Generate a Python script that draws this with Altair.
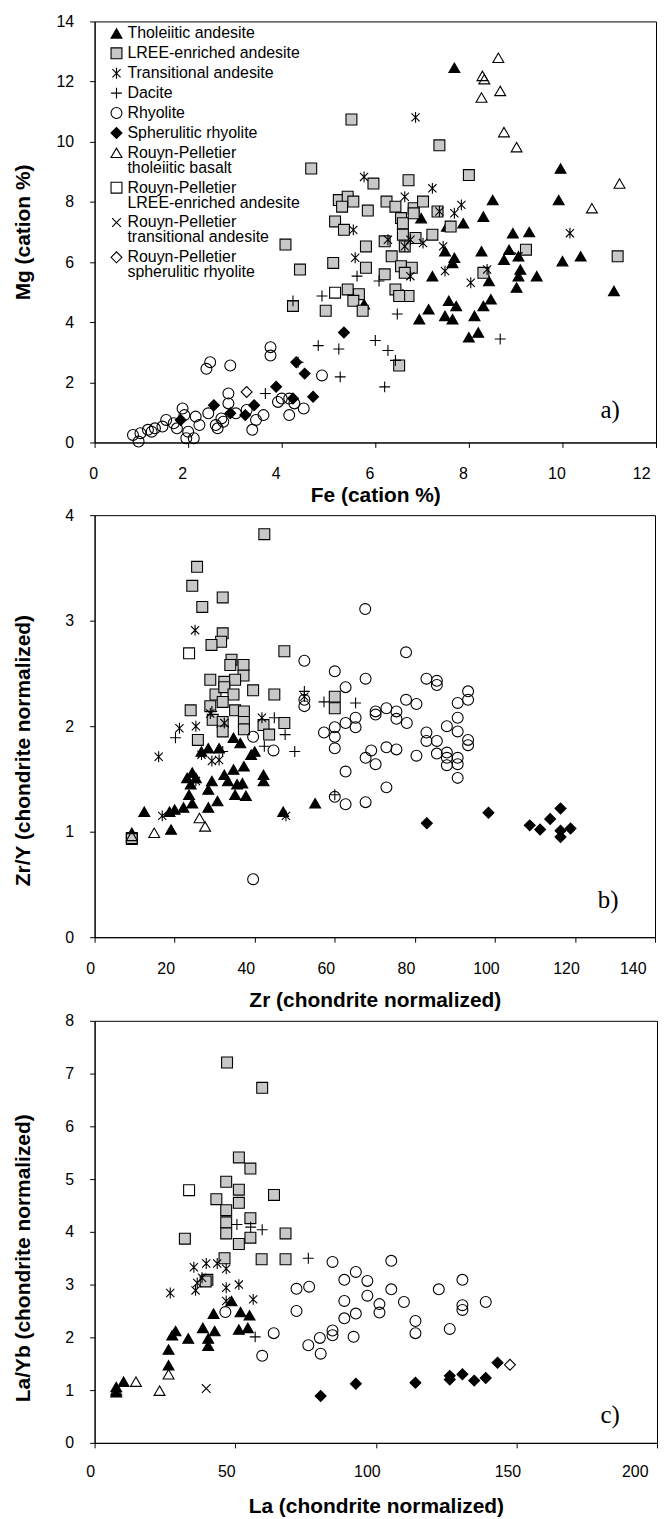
import altair as alt
import pandas as pd

TYPES = [
    "Tholeiitic andesite",
    "LREE-enriched andesite",
    "Transitional andesite",
    "Dacite",
    "Rhyolite",
    "Spherulitic rhyolite",
    "Rouyn-Pelletier tholeiitic basalt",
    "Rouyn-Pelletier LREE-enriched andesite",
    "Rouyn-Pelletier transitional andesite",
    "Rouyn-Pelletier spherulitic rhyolite",
]
ASTER = "M-0.75,-0.75L0.75,0.75M-0.75,0.75L0.75,-0.75M0,-1L0,1"
PLUS = "M-1,0L1,0M0,-1L0,1"
XMARK = "M-0.8,-0.8L0.8,0.8M-0.8,0.8L0.8,-0.8"
SHAPES = ["triangle-up", "square", ASTER, PLUS, "circle", "diamond",
          "triangle-up", "square", XMARK, "diamond"]
FILLS = ["black", "#c8c8c8", "transparent", "transparent", "transparent", "black",
         "transparent", "transparent", "transparent", "transparent"]
STROKES = ["black"] * 10

# ---------------- Panel a: Mg vs Fe (cation %) ----------------
A_THOL = [(7.69, 12.46), (9.96, 9.11), (8.51, 8.06), (9.92, 8.06), (8.31, 7.51), (6.98, 7.46),
          (7.53, 7.18), (7.88, 7.29), (8.94, 6.96), (9.29, 7.0), (8.27, 6.36), (8.86, 6.41),
          (8.75, 6.08), (9.06, 6.19), (10.0, 6.03), (10.39, 6.19), (7.49, 6.36), (7.69, 6.14),
          (7.65, 5.97), (9.1, 5.75), (9.06, 5.53), (8.43, 5.37), (9.45, 5.53), (9.02, 5.15),
          (7.22, 5.53), (11.1, 5.04), (6.59, 4.93), (5.76, 4.6), (7.14, 4.43), (7.57, 4.71),
          (7.73, 4.54), (7.49, 4.21), (7.65, 4.10), (6.94, 4.10), (8.31, 4.54), (8.47, 4.76),
          (8.12, 4.21), (8.0, 3.5), (8.2, 3.66)]
A_LREE = [(5.49, 10.74), (7.37, 9.88), (4.63, 9.11), (8.0, 8.89), (6.71, 8.72), (5.96, 8.61),
          (5.22, 8.06), (5.41, 8.17), (5.53, 8.01), (5.29, 7.84), (5.84, 7.71), (6.24, 8.01),
          (6.43, 7.84), (6.82, 7.79), (7.02, 8.01), (7.33, 7.68), (6.55, 7.46), (6.59, 7.29),
          (6.82, 7.62), (5.14, 7.35), (5.33, 7.07), (7.61, 7.18), (4.08, 6.58), (5.80, 6.52),
          (6.2, 6.69), (6.59, 6.91), (6.86, 6.80), (7.22, 6.91), (6.63, 6.52), (9.22, 6.41),
          (6.35, 6.19), (11.18, 6.19), (5.10, 5.97), (4.39, 5.75), (5.80, 5.81), (6.55, 5.86),
          (6.78, 5.81), (6.2, 5.59), (6.63, 5.64), (8.31, 5.64), (5.41, 5.09), (5.65, 4.93),
          (5.53, 4.71), (6.43, 5.09), (6.71, 4.87), (6.51, 4.87), (4.24, 4.54), (4.94, 4.38),
          (5.73, 4.38), (6.51, 2.56)]
A_TRAN = [(6.86, 10.81), (5.76, 8.83), (7.22, 8.45), (6.63, 8.17), (7.84, 7.90), (7.37, 7.68),
          (7.69, 7.62), (5.53, 7.07), (10.16, 6.96), (6.27, 6.74), (6.75, 6.74), (7.02, 6.63),
          (6.63, 6.52), (7.45, 6.52), (5.57, 6.14), (9.06, 6.19), (7.49, 5.70), (8.39, 5.75),
          (6.75, 5.53), (8.04, 5.31)]
A_DAC = [(5.61, 5.53), (6.08, 5.37), (4.86, 4.87), (4.24, 4.71), (6.47, 4.27), (8.67, 3.44),
         (6.0, 3.39), (4.78, 3.22), (5.22, 3.11), (6.27, 3.06), (6.43, 2.73), (4.35, 2.67),
         (5.25, 2.18), (6.2, 1.85), (3.65, 1.63)]
A_RHY = [(2.47, 2.67), (2.39, 2.45), (2.90, 2.56), (3.76, 3.17), (3.76, 2.89), (4.86, 2.23),
         (2.86, 1.63), (2.86, 1.30), (3.92, 1.35), (4.16, 1.46), (4.16, 0.91), (4.47, 1.13),
         (4.27, 1.30), (4.0, 1.46), (3.61, 0.91), (3.45, 0.75), (3.25, 1.08), (3.37, 0.42),
         (3.02, 0.97), (2.75, 0.69), (2.63, 0.47), (2.43, 0.97), (1.88, 1.13), (1.92, 0.91),
         (2.16, 0.86), (1.53, 0.75), (1.69, 0.64), (1.45, 0.53), (1.29, 0.47), (1.14, 0.42),
         (0.98, 0.31), (0.82, 0.25), (0.94, 0.03), (1.22, 0.36), (2.0, 0.36), (2.12, 0.14),
         (1.96, 0.14), (1.76, 0.47), (2.24, 0.58), (2.71, 0.80), (2.59, 0.58)]
A_SPH = [(5.33, 3.66), (4.31, 2.67), (4.49, 2.29), (3.88, 1.85), (4.67, 1.52), (4.24, 1.46),
         (3.41, 1.24), (2.55, 1.24), (3.22, 0.91), (2.90, 0.97), (1.84, 0.75)]
A_RPTB = [(8.63, 12.79), (8.29, 12.19), (8.33, 12.08), (8.67, 11.69), (8.27, 11.47),
          (8.75, 10.32), (9.02, 9.82), (11.22, 8.61), (10.63, 7.79)]
A_RPLR = [(5.14, 4.98)]
A_RPTA = []
A_RPSR = [(3.25, 1.68)]

# ---------------- Panel b: Zr/Y vs Zr ----------------
B_THOL = [(12.4, 1.19), (9.3, 0.99), (19.1, 1.02), (18.7, 1.19), (20.0, 1.21), (22.2, 1.23),
          (24.4, 1.27), (23.6, 1.35), (24.0, 1.45), (23.1, 1.51), (24.4, 1.56), (25.3, 1.51),
          (28.4, 1.23), (30.7, 1.29), (28.4, 1.40), (29.3, 1.48), (32.4, 1.54), (33.3, 1.48),
          (34.7, 1.59), (35.1, 1.35), (35.6, 1.45), (36.9, 1.46), (37.3, 1.62), (37.8, 1.34),
          (42.2, 1.54), (42.2, 1.48), (39.1, 1.73), (40.0, 1.76), (36.4, 1.84), (34.7, 1.89),
          (31.1, 1.79), (28.4, 1.79), (26.7, 1.76), (47.1, 1.19), (55.1, 1.27)]
B_LREE = [(42.4, 3.82), (25.6, 3.51), (24.4, 3.33), (32.0, 3.22), (26.9, 3.13), (32.0, 2.88),
          (31.6, 2.80), (29.2, 2.77), (47.4, 2.71), (34.2, 2.63), (37.2, 2.58), (33.9, 2.58),
          (37.2, 2.48), (28.9, 2.44), (32.4, 2.42), (35.1, 2.44), (39.6, 2.34), (44.9, 2.30),
          (30.2, 2.30), (32.4, 2.37), (34.7, 2.30), (60.0, 2.28), (60.0, 2.17), (24.0, 2.15),
          (28.9, 2.19), (32.0, 2.23), (35.1, 2.15), (37.3, 2.14), (29.5, 2.06), (32.0, 2.04),
          (37.3, 2.04), (47.4, 2.03), (42.2, 2.01), (37.3, 1.97), (32.0, 1.95), (43.6, 1.92),
          (25.8, 1.87), (9.3, 0.94)]
B_TRAN = [(25.1, 2.91), (16.0, 1.71), (21.2, 1.98), (25.3, 2.0), (28.9, 2.12), (32.4, 2.03),
          (41.8, 2.08), (26.7, 1.73), (29.3, 1.67), (31.1, 1.68), (25.3, 1.48), (16.9, 1.15),
          (47.8, 1.15), (52.4, 2.28)]
B_DAC = [(20.2, 1.89), (29.3, 2.14), (44.9, 2.08), (47.6, 1.92), (42.4, 1.81), (50.0, 1.76),
         (57.3, 2.23), (65.2, 2.22), (60.0, 1.35), (52.4, 2.33), (32.0, 1.76)]
B_RHY = [(67.6, 3.11), (77.8, 2.70), (52.4, 2.62), (60.0, 2.52), (67.7, 2.45), (62.7, 2.37),
         (82.9, 2.45), (85.5, 2.43), (85.5, 2.39), (93.3, 2.33), (93.3, 2.25), (90.7, 2.22),
         (77.8, 2.25), (80.4, 2.21), (52.4, 2.25), (52.4, 2.19), (72.9, 2.17), (70.2, 2.14),
         (70.2, 2.11), (75.4, 2.14), (75.4, 2.07), (78.0, 2.03), (90.7, 2.08), (65.2, 2.08),
         (62.7, 2.03), (65.2, 1.99), (60.0, 1.99), (57.3, 1.94), (60.0, 1.90), (60.0, 1.79),
         (88.0, 2.0), (90.7, 1.95), (82.9, 1.94), (82.9, 1.86), (85.5, 1.86), (93.3, 1.87),
         (93.3, 1.82), (72.9, 1.80), (75.4, 1.78), (69.1, 1.77), (67.7, 1.70), (70.2, 1.64),
         (80.4, 1.72), (85.5, 1.74), (88.0, 1.75), (88.0, 1.70), (88.0, 1.63), (90.7, 1.70),
         (90.7, 1.64), (90.7, 1.51), (62.7, 1.57), (72.9, 1.42), (60.0, 1.33), (62.7, 1.26),
         (67.7, 1.28), (39.6, 1.90), (44.7, 1.77), (39.6, 0.55)]
B_SPH = [(83.0, 1.08), (98.4, 1.18), (108.7, 1.06), (111.3, 1.02), (113.8, 1.12),
         (116.4, 1.22), (116.4, 1.01), (116.4, 0.95), (118.9, 1.03)]
B_RPTB = [(14.9, 0.99), (26.2, 1.13), (27.6, 1.05), (9.3, 0.96)]
B_RPLR = [(23.6, 2.69), (9.3, 0.93)]
B_RPTA = []
B_RPSR = []

# ---------------- Panel c: La/Yb vs La ----------------
C_THOL = [(48.7, 2.69), (51.9, 2.48), (42.3, 2.45), (55.1, 2.42), (51.3, 2.15), (54.5, 2.18),
          (38.5, 2.18), (42.7, 2.12), (28.8, 2.12), (27.6, 2.04), (33.3, 1.98), (40.4, 1.98),
          (40.4, 1.84), (26.3, 1.77), (26.3, 1.47), (10.3, 1.16), (7.7, 1.06), (7.7, 0.96)]
C_LREE = [(47.1, 7.21), (59.6, 6.73), (51.3, 5.41), (55.4, 5.20), (46.8, 4.95), (51.3, 4.80),
          (63.8, 4.70), (43.3, 4.62), (51.3, 4.55), (46.8, 4.41), (55.4, 4.26), (46.8, 4.18),
          (46.8, 3.97), (55.4, 3.89), (51.3, 3.77), (67.9, 3.97), (32.1, 3.87), (46.2, 3.50),
          (59.4, 3.48), (67.9, 3.48), (40.1, 3.09), (39.5, 3.06)]
C_TRAN = [(35.3, 3.33), (39.7, 3.40), (43.6, 3.40), (46.8, 3.30), (46.8, 2.94), (51.3, 3.00),
          (36.5, 3.03), (35.9, 2.89), (56.4, 2.72), (26.9, 2.84), (46.8, 2.69), (38.2, 3.13)]
C_DAC = [(50.6, 4.14), (55.5, 4.09), (59.6, 4.04), (76.0, 3.50), (57.1, 2.01)]
C_RHY = [(46.5, 2.48), (63.7, 2.08), (59.6, 1.65), (71.8, 2.92), (76.3, 2.96), (71.8, 2.50),
         (84.6, 3.43), (88.8, 3.09), (92.9, 3.24), (97.0, 3.07), (97.0, 2.79), (105.5, 3.45),
         (105.5, 2.91), (88.8, 2.69), (101.3, 2.63), (101.3, 2.47), (110.0, 2.67), (92.9, 2.45),
         (88.8, 2.36), (84.6, 2.13), (84.6, 2.04), (92.1, 2.01), (80.1, 1.99), (76.0, 1.85),
         (80.4, 1.69), (114.1, 2.31), (114.1, 2.08), (122.4, 2.91), (130.8, 3.09),
         (130.8, 2.61), (130.8, 2.52), (126.3, 2.16), (139.1, 2.67)]
C_SPH = [(80.4, 0.89), (92.9, 1.12), (114.1, 1.14), (126.3, 1.27), (126.3, 1.20),
         (130.8, 1.30), (135.0, 1.18), (139.1, 1.23), (143.3, 1.52)]
C_RPTB = [(14.7, 1.16), (26.3, 1.30), (23.1, 0.99), (7.7, 1.0)]
C_RPLR = [(33.6, 4.79)]
C_RPTA = [(39.7, 1.03)]
C_RPSR = [(147.7, 1.48)]


def build(groups):
    rows = []
    for name, pts in zip(TYPES, groups):
        for x, y in pts:
            rows.append({"x": x, "y": y, "type": name})
    return pd.DataFrame(rows)


df_a = build([A_THOL, A_LREE, A_TRAN, A_DAC, A_RHY, A_SPH, A_RPTB, A_RPLR, A_RPTA, A_RPSR])
df_b = build([B_THOL, B_LREE, B_TRAN, B_DAC, B_RHY, B_SPH, B_RPTB, B_RPLR, B_RPTA, B_RPSR])
df_c = build([C_THOL, C_LREE, C_TRAN, C_DAC, C_RHY, C_SPH, C_RPTB, C_RPLR, C_RPTA, C_RPSR])

FONT = "Liberation Sans"
SYM = 120


def panel(df, xdom, xvals, ydom, yvals, xtitle, ytitle, label, w, h, legend,
          xlab_off, xlab_pad, xtitle_pad, ytitle_pad, ytitle_y, lab_dx, lab_dy):
    if legend:
        leg = alt.Legend(
            title=None, orient="none", legendX=14, legendY=4,
            labelFont=FONT, labelFontSize=16, labelColor="black", labelLimit=0,
            labelOffset=3, rowPadding=4, padding=0,
            symbolSize=SYM, symbolStrokeWidth=1.1, symbolOpacity=1,
            labelExpr="indexof(datum.label, 'Rouyn-Pelletier ') == 0 ? "
                      "['Rouyn-Pelletier', substring(datum.label, 16)] : datum.label",
        )
    else:
        leg = None
    yaxis = dict(values=yvals, title=ytitle, titlePadding=ytitle_pad, labelPadding=16)
    if ytitle_y is not None:
        yaxis["titleY"] = ytitle_y
    pts = alt.Chart(df).mark_point(
        size=SYM, filled=True, opacity=1, fillOpacity=1, strokeWidth=1.1
    ).encode(
        x=alt.X("x:Q", scale=alt.Scale(domain=xdom, nice=False, zero=False),
                axis=alt.Axis(values=xvals, title=xtitle, labelOffset=xlab_off,
                              titlePadding=xtitle_pad, labelPadding=xlab_pad)),
        y=alt.Y("y:Q", scale=alt.Scale(domain=ydom, nice=False, zero=False),
                axis=alt.Axis(**yaxis)),
        shape=alt.Shape("type:N", scale=alt.Scale(domain=TYPES, range=SHAPES), legend=leg),
        fill=alt.Fill("type:N", scale=alt.Scale(domain=TYPES, range=FILLS), legend=leg),
        stroke=alt.Stroke("type:N", scale=alt.Scale(domain=TYPES, range=STROKES), legend=leg),
    )
    txt = alt.Chart(pd.DataFrame({"t": [label]})).mark_text(
        font="Liberation Serif", fontSize=25, color="black", align="center", baseline="middle"
    ).encode(text="t:N", x=alt.value(w - lab_dx), y=alt.value(h - lab_dy))
    return alt.layer(pts, txt).properties(width=w, height=h)


pa = panel(df_a, [0, 12], list(range(0, 13, 2)), [0, 14], list(range(0, 15, 2)),
           "Fe (cation %)", "Mg (cation %)", "a)", 564, 423, True,
           -6, 18, 3, 23, None, 46, 33)
pb = panel(df_b, [0, 140], list(range(0, 141, 20)), [0, 4], list(range(0, 5)),
           "Zr (chondrite normalized)", "Zr/Y (chondrite normalized)", "b)", 563, 424,
           False, -9, 18, 14, 32, 236, 47, 37)
pc = panel(df_c, [0, 200], list(range(0, 201, 50)), [0, 8], list(range(0, 9)),
           "La (chondrite normalized)", "La/Yb (chondrite normalized)", "c)", 565, 424,
           False, -9, 16, 16, 32, 238, 47, 28)

chart = alt.vconcat(pa, pb, pc, spacing=0).resolve_scale(
    shape="independent", fill="independent", stroke="independent"
).resolve_legend(
    shape="independent", fill="independent", stroke="independent"
).properties(
    padding={"left": 3, "top": 1, "right": 0, "bottom": 0}
).configure(
    style={"guide-label": {"lineHeight": 15}}
).configure_view(
    stroke="black", strokeWidth=1
).configure_axis(
    grid=False, domainColor="black", tickColor="black", labelColor="black",
    titleColor="black", labelFont=FONT, titleFont=FONT, labelFontSize=16,
    titleFontSize=21, titleFontWeight="bold", tickSize=5, domainWidth=1, tickWidth=1
)

chart.save("out.html", embed_options={"renderer": "svg", "actions": False})
